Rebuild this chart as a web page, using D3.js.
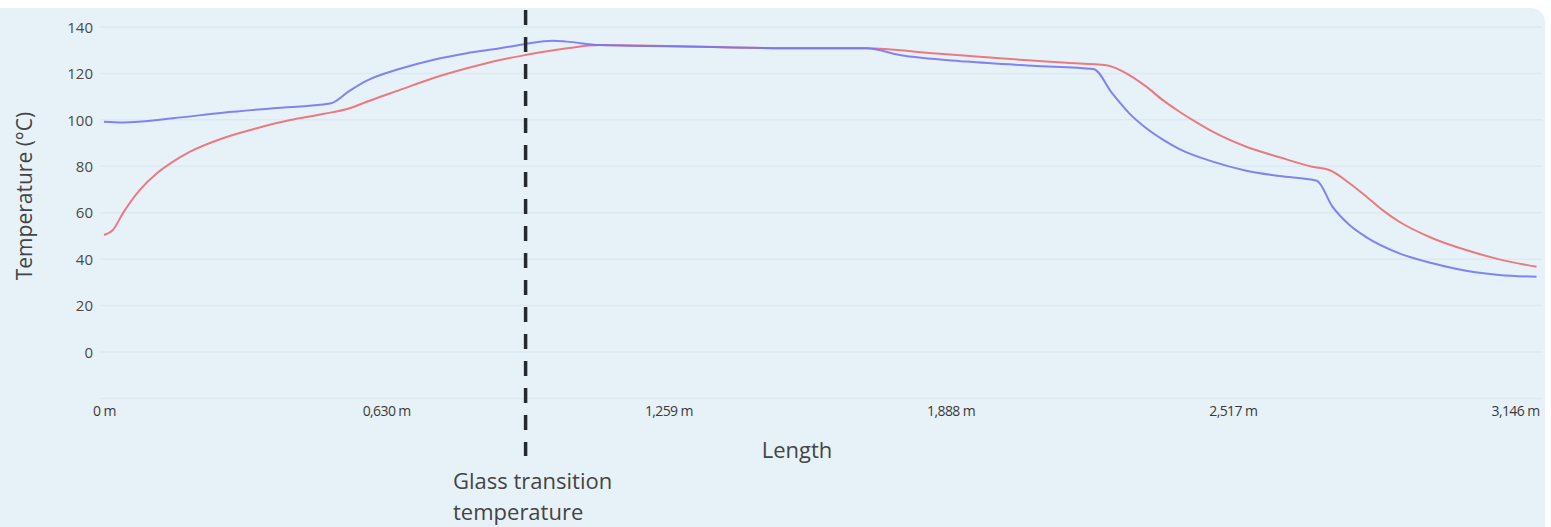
<!DOCTYPE html>
<html>
<head>
<meta charset="utf-8">
<script src="https://cdn.jsdelivr.net/npm/d3@7"></script>
<style>
  html, body { margin: 0; padding: 0; background: #ffffff; }
  svg { display: block; }
</style>
</head>
<body>
<svg id="chart" width="1551" height="527"></svg>
<script>
// Temperature profile along the length (metres, °C)
const blueLength = [0, 0.042, 0.154, 0.265, 0.377, 0.504, 0.548, 0.586, 0.66, 0.733, 0.809, 0.883, 0.939, 1.001, 1.032, 1.105, 1.328, 1.551, 1.70, 1.774, 1.923, 2.07, 2.206, 2.248, 2.286, 2.324, 2.36, 2.398, 2.472, 2.547, 2.621, 2.704, 2.739, 2.777, 2.815, 2.888, 2.962, 3.037, 3.111, 3.194];
const blueTemp   = [99.2, 98.9, 100.7, 103.1, 105.0, 107.0, 112.6, 116.9, 122.0, 125.8, 128.7, 130.8, 132.7, 134.1, 133.7, 132.2, 131.5, 130.8, 130.8, 127.9, 125.1, 123.3, 121.9, 111.4, 102.8, 96.4, 91.6, 87.4, 82.0, 78.1, 75.8, 73.8, 62.6, 54.7, 49.4, 42.5, 38.2, 35.0, 33.2, 32.4];

const redLength = [0, 0.02, 0.042, 0.08, 0.118, 0.154, 0.192, 0.265, 0.341, 0.415, 0.488, 0.548, 0.586, 0.66, 0.733, 0.809, 0.883, 0.939, 1.032, 1.105, 1.328, 1.551, 1.70, 1.848, 1.997, 2.146, 2.235, 2.286, 2.324, 2.36, 2.398, 2.436, 2.472, 2.547, 2.621, 2.694, 2.732, 2.777, 2.815, 2.85, 2.888, 2.962, 3.037, 3.111, 3.194];
const redTemp   = [50.4, 52.6, 59.7, 69.8, 77.0, 82.0, 86.3, 92.1, 96.4, 99.9, 102.5, 105.0, 107.8, 112.9, 117.9, 122.2, 125.8, 127.9, 130.8, 132.2, 131.5, 130.8, 130.8, 128.7, 126.5, 124.6, 123.5, 119.3, 114.3, 108.6, 103.5, 98.9, 94.9, 88.4, 83.9, 79.8, 78.4, 72.7, 66.9, 61.2, 56.1, 49.0, 43.9, 39.9, 36.7];

const xTickValues = [0, 0.6292, 1.2584, 1.8876, 2.5168, 3.146];
const xTickLabels = ["0 m", "0,630 m", "1,259 m", "1,888 m", "2,517 m", "3,146 m"];
const yTickValues = [0, 20, 40, 60, 80, 100, 120, 140];
const gridValues  = [-20, 0, 20, 40, 60, 80, 100, 120, 140];

const glassTransitionLength = 0.94;

const svg = d3.select("#chart");

// panel background
svg.append("rect")
  .attr("x", -14).attr("y", 8)
  .attr("width", 1559).attr("height", 540)
  .attr("rx", 14).attr("ry", 14)
  .attr("fill", "#e7f2f8");

const x = d3.scaleLinear().domain([0, 3.146]).range([104, 1515]);
const y = d3.scaleLinear().domain([-20, 140]).range([398.4, 27]);

// horizontal grid
svg.append("g")
  .selectAll("line")
  .data(gridValues)
  .join("line")
  .attr("x1", 100).attr("x2", 1542)
  .attr("y1", d => y(d)).attr("y2", d => y(d))
  .attr("stroke", "#dde9f0")
  .attr("stroke-width", 1.5);

// y axis
const yAxis = svg.append("g")
  .attr("transform", "translate(93,0)")
  .call(d3.axisLeft(y).tickValues(yTickValues).tickSize(0).tickPadding(0));
yAxis.select(".domain").remove();
yAxis.selectAll("text")
  .attr("font-family", "'Open Sans', sans-serif")
  .attr("font-size", 15)
  .attr("fill", "#4a4a4a")
  .attr("dy", "0.35em");

// x axis
const xAxis = svg.append("g")
  .attr("transform", "translate(0,406)")
  .call(d3.axisBottom(x).tickValues(xTickValues).tickSize(0).tickPadding(0)
    .tickFormat((d, i) => xTickLabels[i]));
xAxis.select(".domain").remove();
xAxis.selectAll("text")
  .attr("font-family", "'Open Sans', sans-serif")
  .attr("font-size", 14)
  .attr("letter-spacing", "-0.6")
  .attr("fill", "#3a3a3a")
  .attr("dy", "0.71em");

// axis titles
svg.append("text")
  .attr("x", 797).attr("y", 458)
  .attr("text-anchor", "middle")
  .attr("font-family", "'Open Sans', sans-serif")
  .attr("font-size", 22)
  .attr("fill", "#444")
  .text("Length");

svg.append("text")
  .attr("transform", "translate(32,196) rotate(-90)")
  .attr("text-anchor", "middle")
  .attr("font-family", "'Open Sans', sans-serif")
  .attr("font-size", 21)
  .attr("fill", "#444")
  .text("Temperature (°C)");

// temperature lines
const line = d3.line()
  .x(d => x(d[0]))
  .y(d => y(d[1]))
  .curve(d3.curveMonotoneX);

const redData = redLength.map((v, i) => [v, redTemp[i]]);
const blueData = blueLength.map((v, i) => [v, blueTemp[i]]);

svg.append("path")
  .datum(redData)
  .attr("d", line)
  .attr("fill", "none")
  .attr("stroke", "#ea7a80")
  .attr("stroke-width", 2);

svg.append("path")
  .datum(blueData)
  .attr("d", line)
  .attr("fill", "none")
  .attr("stroke", "#7676f4")
  .attr("stroke-width", 2)
  .attr("stroke-opacity", 0.9);

// glass transition marker
svg.append("line")
  .attr("x1", x(glassTransitionLength)).attr("x2", x(glassTransitionLength))
  .attr("y1", 10).attr("y2", 456)
  .attr("stroke", "#252a2e")
  .attr("stroke-width", 3.5)
  .attr("stroke-dasharray", "15 12");

const gt = svg.append("text")
  .attr("x", 453).attr("y", 489)
  .attr("font-family", "'Open Sans', sans-serif")
  .attr("font-size", 22)
  .attr("fill", "#444");
gt.append("tspan").attr("x", 453).text("Glass transition");
gt.append("tspan").attr("x", 453).attr("dy", 31).text("temperature");
</script>
</body>
</html>
